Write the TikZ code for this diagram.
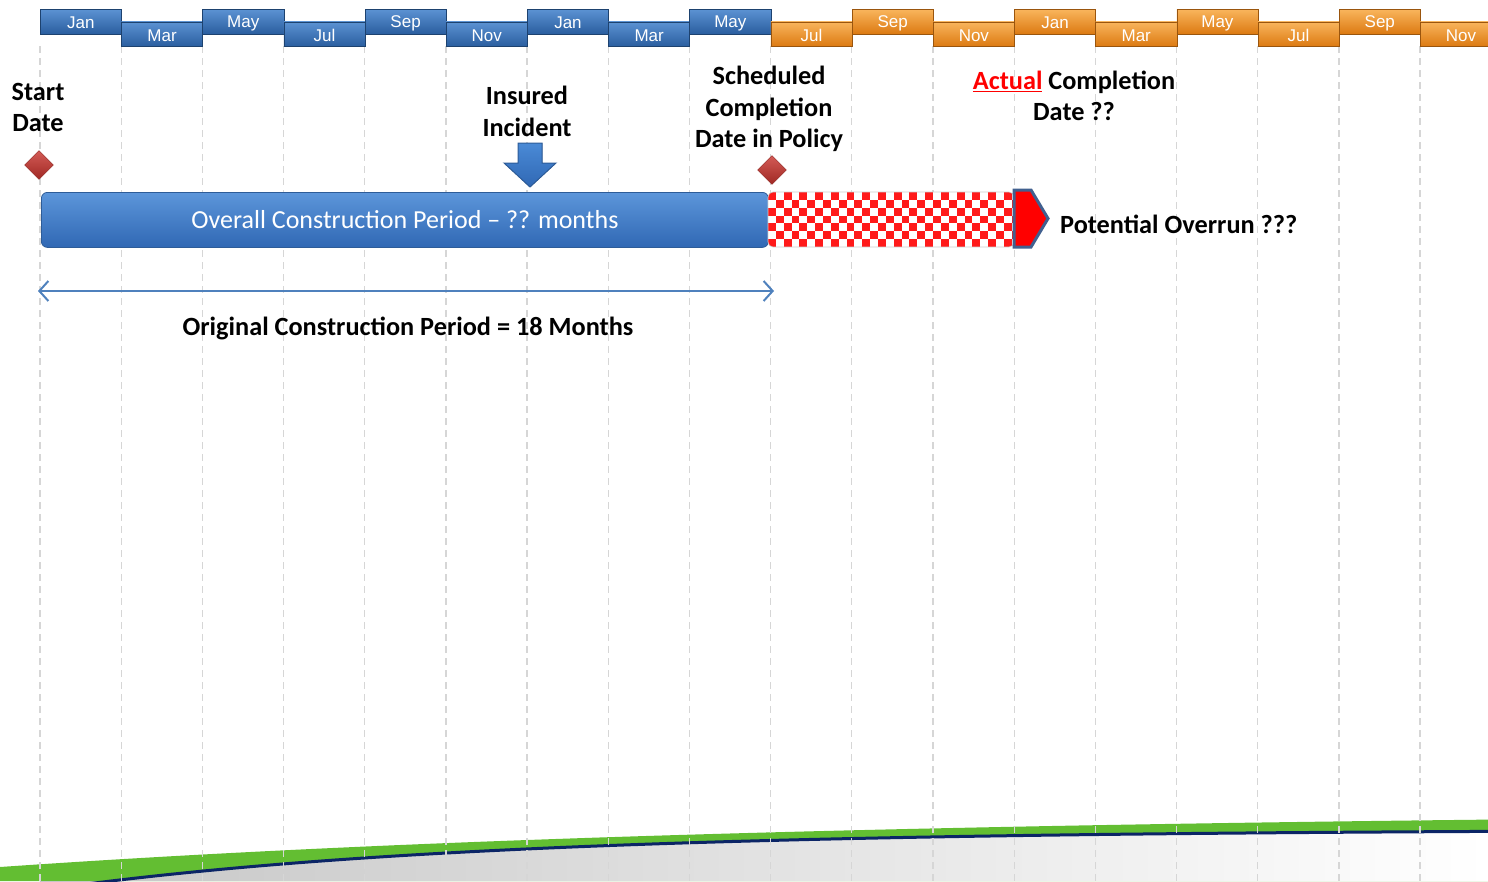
\documentclass[tikz,border=0pt]{standalone}
\usepackage{fontspec}
\setmainfont{Carlito}
\newfontfamily\arialf{Liberation Sans}
\usetikzlibrary{shapes.geometric,arrows.meta}
\definecolor{boxblue}{HTML}{3F7FCB}
\definecolor{boxblued}{HTML}{2A5E9F}
\definecolor{boxorange}{HTML}{F8A840}
\definecolor{boxoranged}{HTML}{DC7A12}
\definecolor{gridgray}{HTML}{D6D6D6}
\definecolor{barblue}{HTML}{4A8AD6}
\definecolor{barblued}{HTML}{3068B4}
\definecolor{barborder}{HTML}{2D5C98}
\definecolor{dmdred}{HTML}{C8322C}
\definecolor{arrblue}{HTML}{4F81BD}
\definecolor{peneborder}{HTML}{41608F}
\definecolor{grassgreen}{HTML}{63BE32}
\definecolor{navyline}{HTML}{0B2566}
\definecolor{chkred}{HTML}{FF1A1A}
\tikzset{
  monthbox/.style={minimum width=81.18pt, minimum height=24.5pt, inner sep=0pt, anchor=north west, draw=#1!70!black, line width=0.6pt},
  bluemonth/.style={monthbox=boxblued, top color=boxblue!85!white, bottom color=boxblued},
  orangemonth/.style={monthbox=boxoranged, top color=boxorange!85!white, bottom color=boxoranged},
  monthlbl/.style={font=\arialf\fontsize{17}{17}\selectfont, text=white},
  gridline/.style={draw=gridgray, line width=1.3pt, dash pattern=on 7pt off 5pt},
  bigtxt/.style={font=\fontsize{26.3}{31.5}\selectfont\bfseries, align=center, inner sep=0pt},
  milestone/.style={diamond, minimum width=29pt, minimum height=29pt, inner sep=0pt, top color=dmdred!80!white, bottom color=dmdred!80!black, draw=dmdred!70!black, line width=0.4pt},
}
\begin{document}
\begin{tikzpicture}[x=1pt,y=-1pt]
\useasboundingbox (0,0) rectangle (1488,881);
% bottom decoration
\fill[grassgreen] plot[domain=0:1488, samples=80] (\x, {810.7+56.3*exp(-\x/807)}) -- (1488,881) -- (0,881) -- cycle;
\shade[left color=gray!45, right color=white] plot[domain=40:1488, samples=80] (\x, {829.3+66.9*exp(-\x/430)}) -- (1488,881) -- (40,881) -- cycle;
\draw[navyline, line width=3pt] plot[domain=40:1488, samples=80] (\x, {829.3+66.9*exp(-\x/430)});
% grid lines
\foreach \i in {0,...,17}{
  \draw[gridline] (40+\i*81.18,46) -- (40+\i*81.18,881);
}
% month boxes
\foreach \i/\m/\s in {0/Jan/bluemonth,1/Mar/bluemonth,2/May/bluemonth,3/Jul/bluemonth,4/Sep/bluemonth,5/Nov/bluemonth,6/Jan/bluemonth,7/Mar/bluemonth,8/May/bluemonth,9/Jul/orangemonth,10/Sep/orangemonth,11/Nov/orangemonth,12/Jan/orangemonth,13/Mar/orangemonth,14/May/orangemonth,15/Jul/orangemonth,16/Sep/orangemonth,17/Nov/orangemonth}{
  \pgfmathtruncatemacro{\odd}{mod(\i,2)}
  \ifnum\odd=0
    \node[\s] (m\i) at (40+\i*81.18,9) {};
    \node[monthlbl] (ml\i) at ([yshift=-1.5pt]m\i.center) {\m};
  \else
    \node[\s] (m\i) at (40+\i*81.18,21.5) {};
    \node[monthlbl] (ml\i) at ([yshift=-1.5pt]m\i.center) {\m};
  \fi
}
% labels
\node[bigtxt] (start) at (38,107.5) {Start\\Date};
\node[milestone] (d1) at (39,165) {};
\node[bigtxt] (insured) at (527,111.5) {Insured\\Incident};
\node[bigtxt] (sched) at (769,109) {Scheduled\\Completion\\Date in Policy};
\node[milestone] (d2) at (772,170) {};
\node[bigtxt] (actual) at (1074,96) {\textcolor{red}{\underline{Actual}} Completion\\Date ??};
% down arrow
\fill[top color=barblue, bottom color=barblued, draw=barborder, line width=1pt]
  (518,143) -- (542,143) -- (542,163) -- (556,163) -- (530,187) -- (504,163) -- (518,163) -- cycle;
% main bar
\node[rounded corners=6pt, top color=barblue!90!white, bottom color=barblued, draw=barborder, line width=0.8pt, minimum width=727pt, minimum height=55pt, inner sep=0pt, anchor=north west] (bar) at (41,192) {};
\node[font=\fontsize{26}{26}\selectfont, text=white] (bartxt) at (405,220) {Overall Construction Period -- ?? months};
% checkered overrun
\begin{scope}
  \clip[rounded corners=5pt] (768,192) rectangle (1014,247);
  \fill[white] (768,192) rectangle (1014,247);
  \foreach \r in {0,...,6}{
    \pgfmathtruncatemacro{\off}{mod(\r,2)}
    \foreach \c in {0,2,...,32}{
      \fill[chkred] (768+\c*7.86+\off*7.86,192+\r*7.86) rectangle ++(7.86,7.86);
    }
  }
\end{scope}
\draw[gray!40, line width=0.6pt, rounded corners=5pt] (768,192) rectangle (1014,247);
% red pentagon
\fill[red, draw=peneborder, line width=3pt, line join=miter]
  (1014,190) -- (1031,190) -- (1048,218.5) -- (1031,247) -- (1014,247) -- cycle;
\node[bigtxt, anchor=west] (overrun) at (1060,224) {Potential Overrun ???};
% original period
\coordinate (oa) at (38,291);
\coordinate (ob) at (774,291);
\draw[arrblue, line width=2pt, {Straight Barb[length=9pt,width=20pt]}-{Straight Barb[length=9pt,width=20pt]}] (oa) -- (ob);
\node[bigtxt] (orig) at (408,328) {Original Construction Period = 18 Months};
\end{tikzpicture}
\end{document}
